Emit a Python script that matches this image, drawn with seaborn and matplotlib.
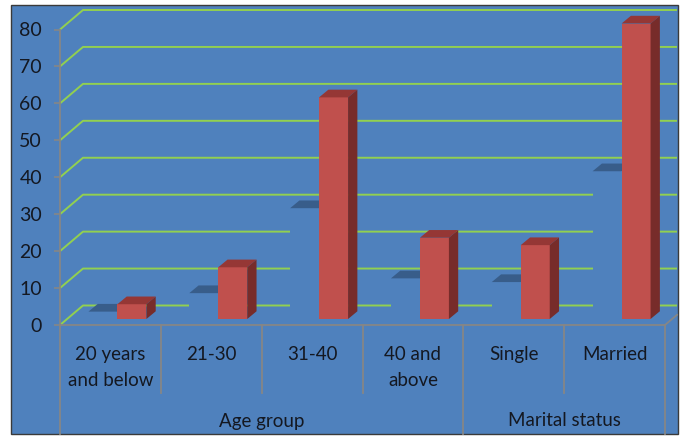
import matplotlib
matplotlib.use("Agg")
import matplotlib.pyplot as plt
import matplotlib.transforms as mtransforms
from matplotlib.patches import Polygon, Rectangle
import pandas as pd
import seaborn as sns

# ---- data ----
categories = ["20 years\nand below", "21-30", "31-40", "40 and\nabove", "Single", "Married"]
groups = ["Age group", "Marital status"]
group_sizes = [4, 2]
frequency = [2, 7, 30, 11, 10, 40]
percentage = [4, 14, 60, 22, 20, 80]
yticks = [0, 10, 20, 30, 40, 50, 60, 70, 80]

# ---- colours ----
BG = "#4F81BD"
GRID = "#92D050"
AXIS = "#868686"
RED = "#C0504D"
RED_TOP = "#953735"
RED_SIDE = "#772C2A"
BLUE_TOP = "#385D8A"
TEXT = "#141821"

plt.rcParams["font.family"] = ["Lato", "DejaVu Sans"]

W, H = 681, 438
fig = plt.figure(figsize=(W / 100, H / 100), dpi=100)
fig.patch.set_facecolor("white")

# chart area with thin dark frame
fig.add_artist(Rectangle((11 / W, (H - 434) / H), (678 - 11) / W, (434 - 5) / H,
                         transform=fig.transFigure, facecolor=BG,
                         edgecolor="#3A3A3A", lw=1.0, zorder=0))

# front plane of the plot, in pixels from the top-left corner
PL, PR, PT, PB = 60, 665, 29.5, 325
ax = fig.add_axes([PL / W, (H - PB) / H, (PR - PL) / W, (PB - PT) / H])
ax.set_facecolor("none")
ax.set_xlim(-0.5, 5.5)
ax.set_ylim(0, 80)

# pixel -> data unit conversions
px_x = 6.0 / (PR - PL)
px_y = 80.0 / (PB - PT)

WALL_DX, WALL_DY = 23, 19.5        # depth of the floor / side wall
BAR_SX, BAR_SY = 7, 6              # bars sit part way into the depth
BAR_DX, BAR_DY = 9.3, 7.7          # depth of each bar
X_END = (677 - PL) * px_x - 0.5    # right edge of the chart area

# back wall and side wall gridlines
for v in yticks:
    xs = [-0.5, -0.5 + WALL_DX * px_x, X_END]
    ys = [v, v + WALL_DY * px_y, v + WALL_DY * px_y]
    ax.plot(xs, ys, color=GRID, lw=1.4, zorder=1, clip_on=False,
            solid_capstyle="butt")

# right edge of the floor
ax.plot([5.5, X_END], [0, (X_END - 5.5) / px_x * (WALL_DY / WALL_DX) * px_y],
        color=AXIS, lw=1.3, zorder=1, clip_on=False)

df = pd.DataFrame({
    "category": categories * 2,
    "series": ["Frequency"] * len(categories) + ["Percentage"] * len(categories),
    "value": frequency + percentage,
})

sns.barplot(data=df, x="category", y="value", hue="series", order=categories,
            palette=[BG, RED], width=0.575, saturation=1, errorbar=None,
            legend=False, ax=ax)

shift = mtransforms.ScaledTranslation(BAR_SX / 100, BAR_SY / 100, fig.dpi_scale_trans)
trans = ax.transData + shift
ddx, ddy = BAR_DX * px_x, BAR_DY * px_y

faces = [(BG, BLUE_TOP, BG, 2), (RED, RED_TOP, RED_SIDE, 3)]
for container, (front, topc, sidec, z) in zip(ax.containers, faces):
    for rect in container:
        x0, w, h = rect.get_x(), rect.get_width(), rect.get_height()
        rect.set_transform(trans)
        rect.set_edgecolor("none")
        rect.set_zorder(z)
        rect.set_clip_on(False)
        top = Polygon([(x0, h), (x0 + w, h), (x0 + w + ddx, h + ddy), (x0 + ddx, h + ddy)],
                      closed=True, facecolor=topc, edgecolor="none",
                      transform=trans, zorder=z, clip_on=False)
        side = Polygon([(x0 + w, 0), (x0 + w + ddx, ddy), (x0 + w + ddx, h + ddy), (x0 + w, h)],
                       closed=True, facecolor=sidec, edgecolor="none",
                       transform=trans, zorder=z, clip_on=False)
        ax.add_patch(top)
        ax.add_patch(side)

# axes styling
for s in ["top", "right"]:
    ax.spines[s].set_visible(False)
for s in ["left", "bottom"]:
    ax.spines[s].set_color(AXIS)
    ax.spines[s].set_linewidth(1.3)
    ax.spines[s].set_zorder(4)
ax.set_yticks(yticks)
ax.set_xlabel("")
ax.set_ylabel("")
ax.tick_params(axis="y", colors=AXIS, length=4, width=1.2, pad=9,
               labelsize=14, labelcolor=TEXT)
ax.tick_params(axis="x", length=0, pad=15, labelsize=13.5, labelcolor=TEXT)
for lbl in ax.get_xticklabels():
    lbl.set_linespacing(1.65)
    lbl.set_verticalalignment("top")

# category dividers and group labels below the floor
bx = mtransforms.blended_transform_factory(ax.transData, ax.transAxes)
inner_bottom = (PB - 393) / (PB - PT)
outer_bottom = (PB - 434) / (PB - PT)
edges = [-0.5]
for n in group_sizes:
    edges.append(edges[-1] + n)
for i in range(len(categories) + 1):
    xpos = i - 0.5
    yb = outer_bottom if xpos in edges else inner_bottom
    ax.plot([xpos, xpos], [0, yb], color=AXIS, lw=1.3, transform=bx,
            clip_on=False, zorder=4)

label_y = (PB - 421) / (PB - PT)
for g, a, b in zip(groups, edges[:-1], edges[1:]):
    ax.text((a + b) / 2, label_y, g, transform=bx, ha="center", va="center",
            fontsize=13.5, color=TEXT)

fig.savefig("out.png", dpi=100, facecolor=fig.get_facecolor())
